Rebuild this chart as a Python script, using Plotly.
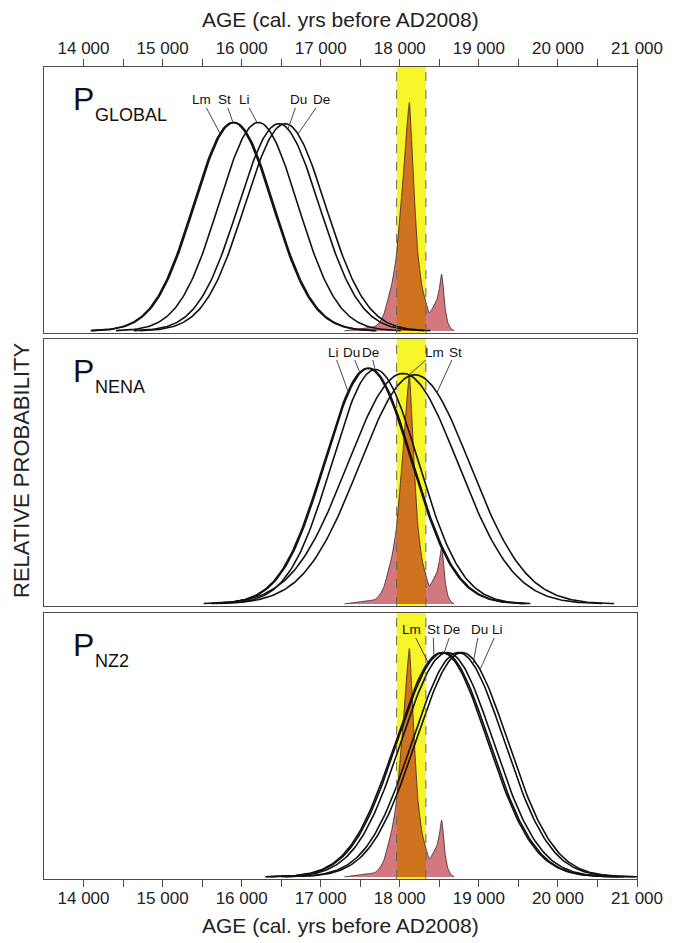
import numpy as np
import plotly.graph_objects as go

# ---------------- data ----------------
panel_names = ["GLOBAL", "NENA", "NZ2"]
series_names = ["Lm", "St", "Li", "Du", "De"]

# Gaussian age distributions (mean, sd, relative height)
global_mean = [15890, 15905, 16210, 16470, 16550]
global_sd = [500, 500, 500, 510, 510]
global_height = [0.79, 0.79, 0.79, 0.785, 0.785]

nena_mean = [18040, 18190, 17595, 17610, 17690]
nena_sd = [700, 700, 550, 550, 545]
nena_height = [0.87, 0.865, 0.89, 0.89, 0.885]

nz2_mean = [18530, 18550, 18785, 18740, 18600]
nz2_sd = [580, 580, 580, 580, 580]
nz2_height = [0.85, 0.85, 0.85, 0.85, 0.85]

span_sigma = [3.6, 3.6, 3.85]

# calibrated age probability (red)
cal_age = [17300, 17400, 17500, 17600, 17680, 17720, 17760, 17800, 17850, 17900,
           17950, 18000, 18050, 18090, 18121, 18150, 18190, 18230, 18280, 18320,
           18375, 18420, 18470, 18500, 18529, 18550, 18575, 18610, 18650, 18690]
cal_prob = [0.0, 0.004, 0.008, 0.012, 0.016, 0.025, 0.04, 0.065, 0.12, 0.18,
            0.27, 0.43, 0.61, 0.77, 0.865, 0.72, 0.48, 0.29, 0.17, 0.12,
            0.068, 0.09, 0.12, 0.16, 0.215, 0.165, 0.085, 0.03, 0.008, 0.0]

band_age = [17960, 18330]

tick_vals = [14000, 14500, 15000, 15500, 16000, 16500, 17000, 17500, 18000,
             18500, 19000, 19500, 20000, 20500, 21000]
tick_labels = ["14 000", "", "15 000", "", "16 000", "", "17 000", "", "18 000",
               "", "19 000", "", "20 000", "", "21 000"]

# label positions: (name, label age, label y, target age)
global_labels = [("Lm", 15498, 0.876, 15726), ("St", 15789, 0.876, 15890),
                 ("Li", 16042, 0.876, 16194), ("Du", 16715, 0.876, 16586),
                 ("De", 17010, 0.876, 16713)]
nena_labels = [("Li", 17165, 0.951, 17345), ("Du", 17390, 0.951, 17497),
               ("De", 17635, 0.951, 17687), ("Lm", 18445, 0.951, 18117),
               ("St", 18705, 0.951, 18471)]
nz2_labels = [("Lm", 18150, 0.936, 18357), ("St", 18420, 0.936, 18433),
              ("De", 18660, 0.936, 18559), ("Du", 19005, 0.936, 18926),
              ("Li", 19240, 0.936, 19015)]

# ---------------- figure ----------------
panels = [
    (global_mean, global_sd, global_height, global_labels),
    (nena_mean, nena_sd, nena_height, nena_labels),
    (nz2_mean, nz2_sd, nz2_height, nz2_labels),
]
ydomains = [[0.6724, 1.0], [0.3362, 0.665], [0.0, 0.3276]]
FONT = "Liberation Sans, Arial, sans-serif"
FRAME = "#4a4a4a"

fig = go.Figure()
annotations = []
shapes = []


def gauss(x, m, s, h):
    return h * np.exp(-((x - m) ** 2) / (2 * s * s))


for i, (means, sds, heights, labels) in enumerate(panels):
    xa = "x" if i == 0 else f"x{i+1}"
    ya = "y" if i == 0 else f"y{i+1}"
    # yellow band
    shapes.append(dict(type="rect", xref=xa, yref=f"{ya} domain", x0=band_age[0], x1=band_age[1],
                       y0=0, y1=1, fillcolor="#F6F52A", line=dict(width=0), layer="below"))
    for b in band_age:
        shapes.append(dict(type="line", xref=xa, yref=f"{ya} domain", x0=b, x1=b, y0=0, y1=1,
                           line=dict(color="#666666", width=1, dash="dash"), layer="above"))
    # red calibrated distribution
    fig.add_trace(go.Scatter(x=cal_age, y=cal_prob, xaxis=xa, yaxis=ya, mode="lines",
                             line=dict(color="#3a2020", width=0.8, shape="spline", smoothing=0.5),
                             fill="tozeroy", fillcolor="rgba(175,5,20,0.54)",
                             hoverinfo="skip", showlegend=False))
    # gaussian curves
    for name, m, s, h in zip(series_names, means, sds, heights):
        xs = np.linspace(m - span_sigma[i] * s, m + span_sigma[i] * s, 200)
        fig.add_trace(go.Scatter(x=xs, y=gauss(xs, m, s, h), xaxis=xa, yaxis=ya, mode="lines",
                                 line=dict(color="#111111", width=1.6), name=name,
                                 showlegend=False))
    # curve labels with leader lines
    pmap = {n: (m, s, h) for n, m, s, h in zip(series_names, means, sds, heights)}
    for name, lx, ly, tx in labels:
        m, s, h = pmap[name]
        annotations.append(dict(x=tx, y=float(gauss(tx, m, s, h)), xref=xa, yref=ya,
                                ax=lx, ay=ly, axref=xa, ayref=ya, text=name,
                                showarrow=True, arrowhead=0, arrowwidth=0.9,
                                arrowcolor="#333333", standoff=0, borderpad=0,
                                font=dict(family=FONT, size=13.5, color="#111111")))

# panel labels
p_pos = [(0.9606, 0.9409), (0.6256, 0.6059), (0.2882, 0.2685)]
for name, (yp, ys) in zip(panel_names, p_pos):
    annotations.append(dict(x=0.046, y=yp, xref="paper", yref="paper", text="P",
                            showarrow=False, xanchor="left", yanchor="middle",
                            font=dict(family=FONT, size=32, color="#111111")))
    annotations.append(dict(x=0.0826, y=ys, xref="paper", yref="paper", text=name,
                            showarrow=False, xanchor="left", yanchor="middle",
                            font=dict(family=FONT, size=18, color="#111111")))

# titles
title_txt = "AGE (cal. yrs before AD2008)"
annotations.append(dict(x=0.5, y=1.0591, xref="paper", yref="paper", text=title_txt,
                        showarrow=False, xanchor="center", yanchor="middle", borderpad=0,
                        font=dict(family=FONT, size=21, color="#222222")))
annotations.append(dict(x=0.5, y=-0.0567, xref="paper", yref="paper", text=title_txt,
                        showarrow=False, xanchor="center", yanchor="middle",
                        font=dict(family=FONT, size=21, color="#222222")))
annotations.append(dict(x=-0.0371, y=0.5037, xref="paper", yref="paper",
                        text="RELATIVE PROBABILITY", textangle=-90,
                        showarrow=False, xanchor="center", yanchor="middle",
                        font=dict(family=FONT, size=22, color="#222222")))

axis_common = dict(range=[13500, 21000], showgrid=False, zeroline=False,
                   showline=True, linecolor=FRAME, linewidth=1.3, mirror=True)
tick_common = dict(tickmode="array", tickvals=tick_vals, ticktext=tick_labels,
                   ticks="outside", ticklen=7, tickwidth=1.1, tickcolor=FRAME,
                   tickfont=dict(family=FONT, size=17, color="#222222"))
yaxis_common = dict(range=[-0.008, 1.0], showgrid=False, zeroline=False,
                    showline=True, linecolor=FRAME, linewidth=1.3, mirror=True,
                    showticklabels=False, ticks="")

# page body has an 8 px default margin: figure is shrunk and margins shifted to compensate
fig.update_layout(
    width=673, height=935, autosize=False,
    margin=dict(l=36, r=44, t=59, b=64),
    paper_bgcolor="white", plot_bgcolor="white",
    showlegend=False,
    xaxis=dict(anchor="y", side="top", ticklabelstandoff=-2, **axis_common, **tick_common),
    xaxis2=dict(anchor="y2", matches="x", showticklabels=False, ticks="", **axis_common),
    xaxis3=dict(anchor="y3", matches="x", side="bottom", ticklabelstandoff=-4,
                **axis_common, **tick_common),
    yaxis=dict(domain=ydomains[0], anchor="x", **yaxis_common),
    yaxis2=dict(domain=ydomains[1], anchor="x2", **yaxis_common),
    yaxis3=dict(domain=ydomains[2], anchor="x3", **yaxis_common),
    shapes=shapes,
    annotations=annotations,
)

fig.write_html("out.html")
